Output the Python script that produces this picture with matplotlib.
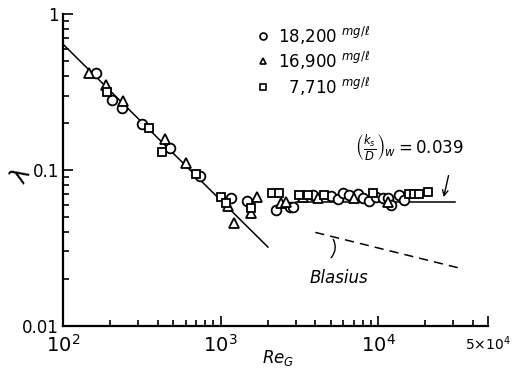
import numpy as np
import matplotlib
matplotlib.use("Agg")
import matplotlib.pyplot as plt

plt.rcParams['font.family'] = ['DejaVu Sans']
plt.rcParams['mathtext.fontset'] = 'dejavusans'

# 18,200 mg/l (circles)
re_c = [162, 205, 238, 318, 481, 746, 1158, 1465, 2240, 2748, 2875, 3855, 5020,
        5560, 5980, 6535, 7460, 8020, 8760, 9710, 10760, 11590, 12110, 13610, 14650]
lam_c = [0.419, 0.281, 0.250, 0.197, 0.138, 0.0916, 0.0662, 0.0633, 0.0554, 0.0579,
         0.0579, 0.0692, 0.0681, 0.0652, 0.0713, 0.0692, 0.0702, 0.0662, 0.0633,
         0.0671, 0.0662, 0.0662, 0.0597, 0.0692, 0.0643]

# 16,900 mg/l (triangles)
re_t = [146.5, 188, 241, 447, 607, 1109, 1211, 1553, 1694, 2410, 2594, 3327, 4150, 7030, 11590]
lam_t = [0.419, 0.351, 0.277, 0.158, 0.111, 0.0588, 0.0457, 0.0530, 0.0671, 0.0614,
         0.0624, 0.0671, 0.0662, 0.0662, 0.0624]

# 7,710 mg/l (squares)
re_s = [191, 353, 427, 703, 1000, 1076, 1553, 2113, 2340, 3140, 3580, 4530, 9290,
        15750, 16950, 18240, 20800]
lam_s = [0.316, 0.186, 0.130, 0.0942, 0.0671, 0.0614, 0.0571, 0.0713, 0.0713, 0.0692,
         0.0692, 0.0692, 0.0713, 0.0702, 0.0702, 0.0702, 0.0723]

# reference curves
re_lam = [100, 2000]          # laminar 64/Re
re_rough = [3000, 31000]      # fully rough line
lam_rough = 0.0624
re_blas = [4000, 34000]       # Blasius 0.316 Re^-0.25

fig = plt.figure(figsize=(5.17, 3.69), dpi=100)
ax = fig.add_axes([0.122, 0.117, 0.822, 0.845])

ax.set_xscale('log')
ax.set_yscale('log')
ax.set_xlim(100, 5e4)
ax.set_ylim(0.01, 1)

rl = np.array(re_lam, dtype=float)
ax.plot(rl, 64 / rl, color='black', lw=1.1, zorder=1)
ax.plot(re_rough, [lam_rough, lam_rough], color='black', lw=1.1, zorder=1)
rb = np.array(re_blas, dtype=float)
ax.plot(rb, 0.316 * rb ** -0.25, color='black', lw=1.1, ls=(0, (6, 4)))

mk = dict(ls='none', mfc='white', mec='black', mew=1.3, zorder=3)
ax.plot(re_c, lam_c, marker='o', ms=7, **mk)
ax.plot(re_t, lam_t, marker='^', ms=6.5, **mk)
ax.plot(re_s, lam_s, marker='s', ms=6, **mk)

for s in ['top', 'right']:
    ax.spines[s].set_visible(False)
for s in ['left', 'bottom']:
    ax.spines[s].set_linewidth(1.6)

ax.tick_params(which='both', direction='in', width=1.2)
ax.tick_params(which='major', length=7)
ax.tick_params(which='minor', length=4)
ax.set_xticks([100, 1000, 10000, 50000])
ax.set_xticklabels([r'$10^2$', r'$10^3$', r'$10^4$', r'$5{\times}10^4$'])
ax.set_yticks([0.01, 0.1, 1])
ax.set_yticklabels(['0.01', '0.1', '1'])
for lab in ax.get_xticklabels():
    lab.set_fontsize(14)
ax.get_xticklabels()[3].set_fontsize(10)
for lab in ax.get_yticklabels():
    lab.set_fontsize(12)
ax.tick_params(axis='x', which='major', pad=6)
ax.tick_params(axis='y', which='major', pad=3)

fig.text(0.538, 0.03, r'$Re_G$', fontsize=12, ha='center', va='center')
fig.text(0.04, 0.525, 'λ', fontsize=17, rotation=60, ha='center', va='center')

# legend as text
leg_y = [0.929, 0.849, 0.766]
leg_m = ['o', '^', 's']
leg_txt = [r'18,200 $^{mg/\ell}$', r'16,900 $^{mg/\ell}$', r'  7,710 $^{mg/\ell}$']
for yy, m, t in zip(leg_y, leg_m, leg_txt):
    ax.plot([0.47], [yy], marker=m, ms=5, mfc='white', mec='black', mew=1.2,
            transform=ax.transAxes, clip_on=False)
    ax.text(0.505, yy, t, transform=ax.transAxes, fontsize=12, va='center')

ax.text(0.815, 0.57, r'$\left(\frac{k_s}{D}\right)_w = 0.039$', transform=ax.transAxes,
        fontsize=12, ha='center', va='center')
ax.annotate('', xy=(25900, 0.0643), xytext=(28300, 0.0957),
            arrowprops=dict(arrowstyle='->', color='black', lw=1.0))

ax.text(0.58, 0.154, 'Blasius', transform=ax.transAxes, fontsize=12, style='italic',
        va='center')
ax.annotate('', xy=(5100, 0.0372), xytext=(4900, 0.0265),
            arrowprops=dict(arrowstyle='-', color='black', lw=1.0,
                            connectionstyle='arc3,rad=0.4'))

fig.savefig('out.png', dpi=100)
